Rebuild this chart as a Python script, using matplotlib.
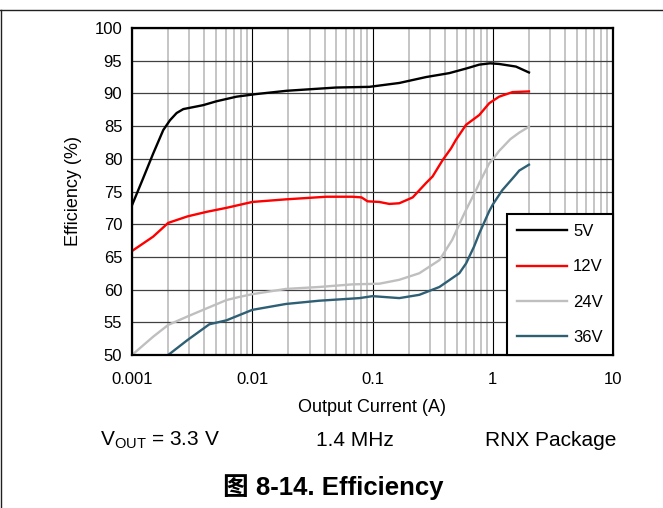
import numpy as np
import matplotlib
matplotlib.use("Agg")
import matplotlib.pyplot as plt
from matplotlib.lines import Line2D

plt.rcParams['font.family'] = ['Liberation Sans', 'Noto Sans CJK SC', 'DejaVu Sans']

# efficiency curves (current in A, efficiency in %)
i_5v = [0.001, 0.00123, 0.0015, 0.00182, 0.00207, 0.00235, 0.00267, 0.00344, 0.0039, 0.00505, 0.0074,
        0.0108, 0.0193, 0.05, 0.094, 0.1675, 0.279, 0.435, 0.60, 0.773, 0.95, 1.13, 1.56, 2.0]
e_5v = [72.9, 76.9, 80.8, 84.4, 85.9, 87.0, 87.6, 88.0, 88.2, 88.8, 89.5,
        89.9, 90.4, 90.9, 91.0, 91.6, 92.5, 93.1, 93.8, 94.4, 94.6, 94.5, 94.1, 93.2]

i_12v = [0.001, 0.0015, 0.002, 0.0029, 0.0042, 0.0061, 0.01, 0.019, 0.0415, 0.068, 0.081, 0.091, 0.114,
         0.138, 0.167, 0.216, 0.279, 0.316, 0.383, 0.45, 0.494, 0.60, 0.773, 0.935, 1.13, 1.46, 2.0]
e_12v = [65.9, 68.1, 70.2, 71.2, 71.9, 72.5, 73.4, 73.8, 74.2, 74.2, 74.1, 73.5, 73.4,
         73.1, 73.2, 74.1, 76.3, 77.3, 79.8, 81.6, 82.9, 85.2, 86.7, 88.5, 89.5, 90.2, 90.3]

i_24v = [0.001, 0.0015, 0.002, 0.0029, 0.0039, 0.0061, 0.0079, 0.01, 0.019, 0.036, 0.068, 0.114, 0.167,
         0.245, 0.36, 0.46, 0.562, 0.60, 0.726, 0.773, 0.935, 1.0, 1.13, 1.4, 1.66, 2.0]
e_24v = [50.0, 52.8, 54.6, 55.9, 56.9, 58.4, 58.9, 59.3, 60.1, 60.4, 60.8, 60.9, 61.5,
         62.5, 64.5, 67.6, 71.1, 72.2, 75.2, 76.3, 79.3, 79.9, 81.2, 83.0, 84.0, 84.9]

i_36v = [0.002, 0.0029, 0.0044, 0.0061, 0.01, 0.019, 0.036, 0.078, 0.1, 0.167, 0.245, 0.36, 0.527,
         0.60, 0.70, 0.773, 0.935, 1.0, 1.2, 1.43, 1.56, 1.66, 2.0]
e_36v = [50.0, 52.3, 54.7, 55.3, 56.9, 57.8, 58.3, 58.7, 59.0, 58.7, 59.2, 60.4, 62.5,
         64.0, 66.6, 68.6, 72.0, 73.0, 75.2, 76.8, 77.6, 78.2, 79.1]

labels = ["5V", "12V", "24V", "36V"]
colors = ["#000000", "#ff0000", "#bfbfbf", "#2e5f74"]

x_ticks = [0.001, 0.01, 0.1, 1, 10]
x_tick_labels = ["0.001", "0.01", "0.1", "1", "10"]
y_ticks = [50, 55, 60, 65, 70, 75, 80, 85, 90, 95, 100]

fig = plt.figure(figsize=(6.63, 5.08), dpi=100)
ax = fig.add_axes([132/663, 1-355/508, (613-132)/663, (355-28)/508])

ax.set_xscale("log")
ax.set_xlim(0.001, 10)
ax.set_ylim(50, 100)

# grid: light gray minor verticals, black major verticals, dark horizontals
ax.set_xticks(x_ticks)
ax.set_xticklabels(x_tick_labels)
ax.set_yticks(y_ticks)
ax.xaxis.set_minor_locator(matplotlib.ticker.LogLocator(base=10, subs=np.arange(2, 10), numticks=20))
ax.xaxis.set_minor_formatter(matplotlib.ticker.NullFormatter())
ax.grid(which="minor", axis="x", color="#c0c0c0", lw=1.3)
ax.grid(which="major", axis="x", color="#000000", lw=0.8)
ax.grid(which="major", axis="y", color="#404040", lw=0.9)
ax.set_axisbelow(True)
ax.tick_params(which="both", length=0, labelsize=12)
ax.tick_params(axis="y", pad=7)
ax.tick_params(axis="x", pad=12)

for sp in ax.spines.values():
    sp.set_linewidth(1.6)

series = [(i_5v, e_5v), (i_12v, e_12v), (i_24v, e_24v), (i_36v, e_36v)]
for (xs, ys), lab, c in zip(series, labels, colors):
    ax.plot(xs, ys, color=c, lw=1.7, label=lab, solid_joinstyle="round")

leg = ax.legend(loc="lower right", bbox_to_anchor=(1.0, 0.0), borderaxespad=0, fontsize=12,
                frameon=True, fancybox=False, edgecolor="black", framealpha=1,
                handlelength=3.0, labelspacing=1.22, borderpad=0.6, handletextpad=0.4)
leg.get_frame().set_linewidth(1.5)

ax.set_xlabel("Output Current (A)", fontsize=13, labelpad=9)
ax.set_ylabel("Efficiency (%)", fontsize=13, labelpad=9)

# caption row and figure title
fig.text(100/663, 1-440/508, r"V$_{\mathregular{OUT}}$ = 3.3 V", fontsize=15, va="center", ha="left")
fig.text(355/663, 1-440/508, "1.4 MHz", fontsize=15, va="center", ha="center")
fig.text(616/663, 1-440/508, "RNX Package", fontsize=15, va="center", ha="right")
fig.text(333/663, 1-487/508, "图 8-14. Efficiency", fontsize=18.5, fontweight="bold",
         va="center", ha="center")

# page frame lines
fig.add_artist(Line2D([0, 1], [1-10/508, 1-10/508], color="#202020", lw=1.0, transform=fig.transFigure))
fig.add_artist(Line2D([0.7/663, 0.7/663], [0, 1-10/508], color="#202020", lw=1.0, transform=fig.transFigure))

fig.savefig("out.png", dpi=100)
